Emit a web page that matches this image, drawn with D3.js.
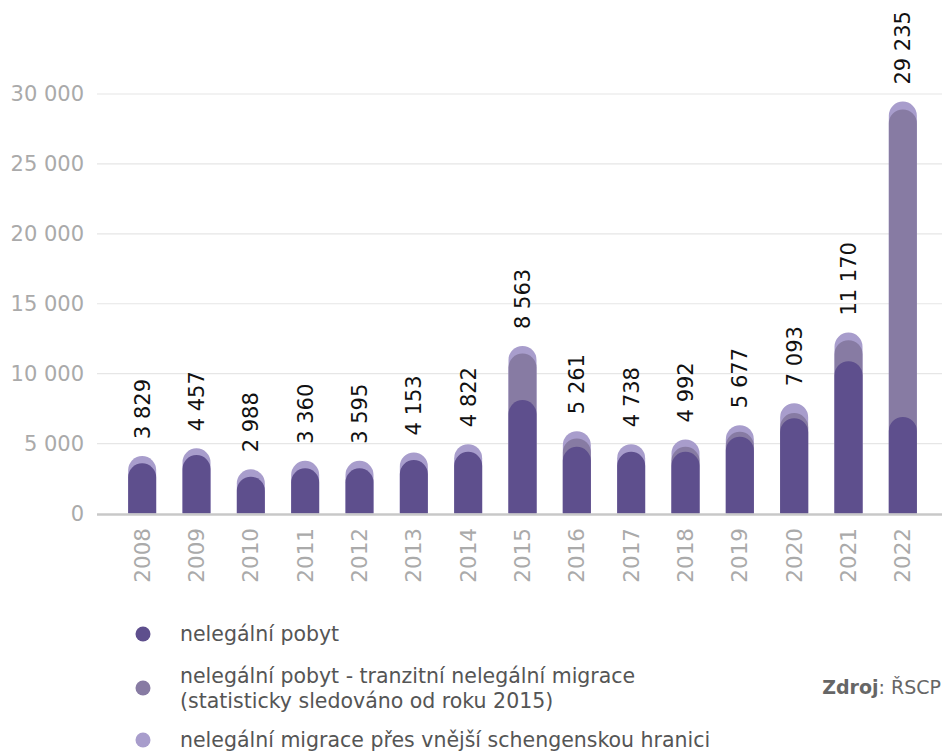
<!DOCTYPE html>
<html>
<head>
<meta charset="utf-8">
<script src="https://cdn.jsdelivr.net/npm/d3@7"></script>
<style>
  body { margin: 0; background: #fff; }
  svg { display: block; font-family: "DejaVu Sans", Verdana, sans-serif; }
</style>
</head>
<body>
<script>
// Data
let years = ['2008', '2009', '2010', '2011', '2012', '2013', '2014', '2015',
             '2016', '2017', '2018', '2019', '2020', '2021', '2022'];
let totalLabels = [3829, 4457, 2988, 3360, 3595, 4153, 4822, 8563,
                   5261, 4738, 4992, 5677, 7093, 11170, 29235];
// stacked segments as drawn
let pobyt = [3590, 4180, 2630, 3230, 3230, 3820, 4410, 8110,
             4770, 4410, 4410, 5490, 6820, 10890, 6910];
let tranzit = [0, 0, 0, 0, 0, 0, 0, 3330,
               600, 0, 360, 350, 360, 1500, 21980];
let hranice = [520, 480, 530, 540, 540, 550, 550, 540,
               520, 550, 530, 480, 710, 550, 570];
let yTicks = [0, 5000, 10000, 15000, 20000, 25000, 30000];

let keys = ['pobyt', 'tranzit', 'hranice'];
let colors = {pobyt: '#5e4f8d', tranzit: '#877ba3', hranice: '#a89dcc'};
let legendItems = [
    {key: 'pobyt', lines: ['nelegální pobyt']},
    {key: 'tranzit', lines: ['nelegální pobyt - tranzitní nelegální migrace', '(statisticky sledováno od roku 2015)']},
    {key: 'hranice', lines: ['nelegální migrace přes vnější schengenskou hranici']}
];

let rows = years.map((y, i) => ({year: y, pobyt: pobyt[i], tranzit: tranzit[i], hranice: hranice[i], label: totalLabels[i]}));

let width = 942, height = 752;
let svg = d3.select('body').append('svg')
    .attr('width', width)
    .attr('height', height);

let x = d3.scaleBand().domain(years).range([115, 930]);
let y = d3.scaleLinear().domain([0, 30000]).range([513.5, 94]);
let barW = 28;
let fmt = v => d3.format(',')(v).replace(/,/g, ' ');

// gridlines + y labels
let grid = svg.append('g');
grid.selectAll('line').data(yTicks.filter(d => d > 0)).enter().append('line')
    .attr('x1', 97).attr('x2', width)
    .attr('y1', d => y(d)).attr('y2', d => y(d))
    .style('stroke', '#e6e6e6').style('stroke-width', 1.2);
grid.selectAll('text').data(yTicks).enter().append('text')
    .attr('x', 84).attr('y', d => y(d))
    .attr('text-anchor', 'end').attr('dy', '0.35em')
    .style('fill', '#aaaaaa').style('font-size', '21px')
    .text(d => fmt(d));

// rounded-top bar path
function roundBar(cx, yTop, yBase) {
    let r = barW / 2;
    return 'M' + (cx - r) + ',' + yBase +
        'L' + (cx - r) + ',' + (yTop + r) +
        'A' + r + ',' + r + ' 0 0 1 ' + (cx + r) + ',' + (yTop + r) +
        'L' + (cx + r) + ',' + yBase + 'Z';
}

let stack = d3.stack().keys(keys)(rows);
let bars = svg.append('g');
// draw top series first, each from the baseline, so lower caps sit on top
stack.slice().reverse().forEach(series => {
    bars.selectAll('.s-' + series.key)
        .data(series.filter(d => d.data[series.key] > 0))
        .enter().append('path')
        .attr('class', 's-' + series.key)
        .attr('d', d => roundBar(x(d.data.year) + x.bandwidth() / 2, y(d[1]), y(0)))
        .style('fill', colors[series.key]);
});

// baseline
svg.append('line')
    .attr('x1', 97).attr('x2', width)
    .attr('y1', y(0) + 1).attr('y2', y(0) + 1)
    .style('stroke', '#c8c8c8').style('stroke-width', 2.5);

// value labels
let topSeries = stack[stack.length - 1];
svg.append('g').selectAll('text').data(topSeries).enter().append('text')
    .attr('transform', d => 'translate(' + (x(d.data.year) + x.bandwidth() / 2) + ',' + (y(d[1]) - 17) + ') rotate(-90)')
    .attr('dy', '0.35em')
    .style('font-size', '21px').style('fill', '#111')
    .text(d => fmt(d.data.label));

// year labels
svg.append('g').selectAll('text').data(years).enter().append('text')
    .attr('transform', d => 'translate(' + (x(d) + x.bandwidth() / 2) + ',528) rotate(-90)')
    .attr('text-anchor', 'end').attr('dy', '0.35em')
    .style('font-size', '21.5px').style('fill', '#aaaaaa')
    .text(d => d);

// legend
let legendY = [634, 688, 740];
let legend = svg.append('g');
legendItems.forEach((item, i) => {
    let g = legend.append('g').attr('transform', 'translate(0,' + legendY[i] + ')');
    g.append('circle').attr('cx', 143).attr('cy', 0).attr('r', 7.5)
        .style('fill', colors[item.key]);
    let n = item.lines.length;
    item.lines.forEach((line, j) => {
        g.append('text')
            .attr('x', 180).attr('y', (j - (n - 1) / 2) * 25)
            .attr('dy', '0.35em')
            .style('font-size', '20.5px').style('fill', '#555')
            .text(line);
    });
});

// source
let src = svg.append('text')
    .attr('x', 941).attr('y', 687).attr('dy', '0.35em')
    .attr('text-anchor', 'end')
    .style('font-size', '19px').style('fill', '#666');
src.append('tspan').style('font-weight', 'bold').text('Zdroj');
src.append('tspan').text(': ŘSCP');
</script>
</body>
</html>
